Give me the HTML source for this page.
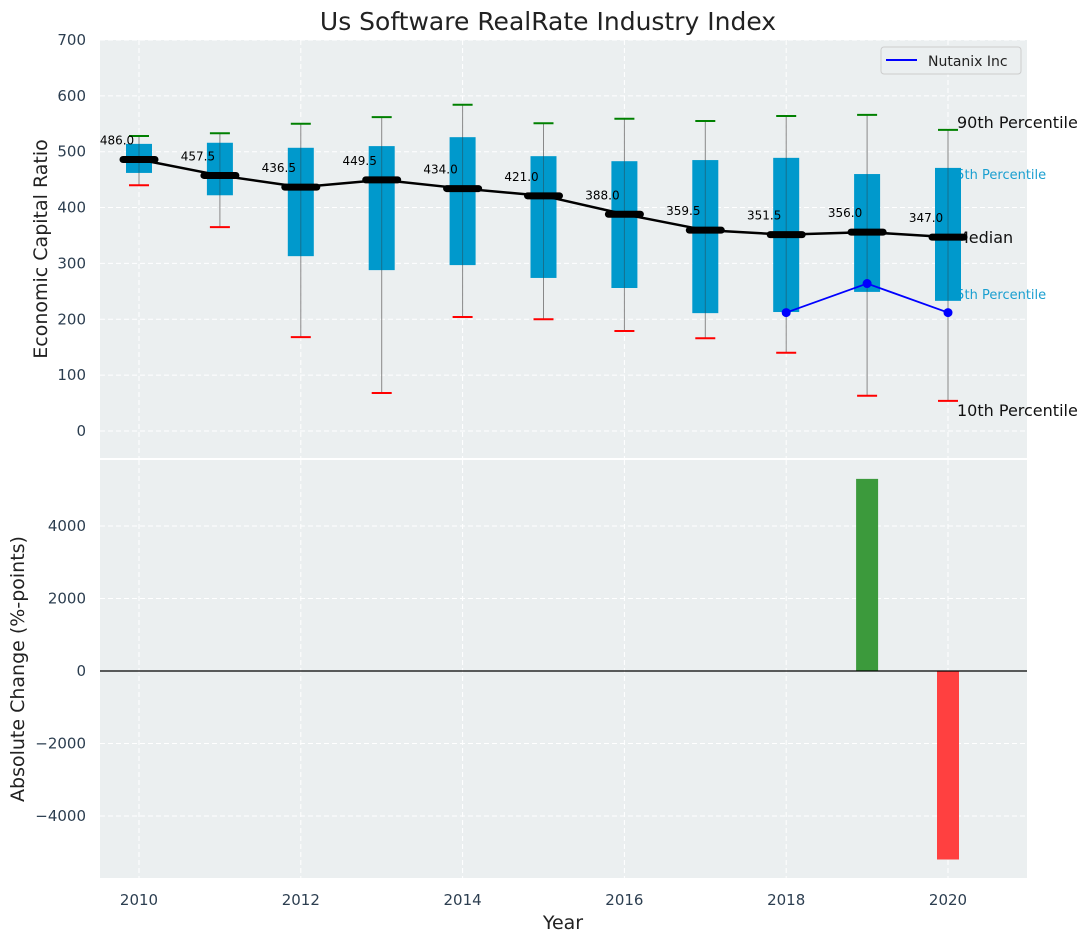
<!DOCTYPE html>
<html><head><meta charset="utf-8"><style>
html,body{margin:0;padding:0;background:#fff;}
svg{display:block;font-family:"DejaVu Sans","Liberation Sans",sans-serif;}
</style></head><body>
<svg id="chart" width="1092" height="942" viewBox="0 0 1092 942" xmlns="http://www.w3.org/2000/svg">
<text x="548" y="30" font-size="25" text-anchor="middle" fill="#222">Us Software RealRate Industry Index</text>
<rect x="100" y="40" width="927" height="418" fill="#ebeff0"/>
<rect x="100" y="460" width="927" height="418" fill="#ebeff0"/>
<g id="grid"></g>
<g id="marks"></g>
<g id="axes"></g>
<text transform="translate(47,249) rotate(-90)" font-size="19" text-anchor="middle" fill="#222">Economic Capital Ratio</text>
<text transform="translate(24,669) rotate(-90)" font-size="19" text-anchor="middle" fill="#222">Absolute Change (%-points)</text>
<text x="563" y="929" font-size="19" text-anchor="middle" fill="#222">Year</text>
<g>
<rect x="881" y="47" width="140" height="27" rx="3" fill="#ebeff0" stroke="#ccc"/>
<line x1="886" y1="60" x2="917" y2="60" stroke="#0000ff" stroke-width="2"/>
<text x="928" y="66" font-size="14" fill="#222">Nutanix Inc</text>
</g>
</svg>
<script>
const years=[2010,2011,2012,2013,2014,2015,2016,2017,2018,2019,2020];
const p90=[528,533,550,562,584,551,559,555,564,566,539];
const p75=[514,516,507,510,526,492,483,485,489,460,471];
const medians=[486.0,457.5,436.5,449.5,434.0,421.0,388.0,359.5,351.5,356.0,347.0];
const p25=[462,422,313,288,297,274,256,211,213,249,233];
const p10=[440,365,168,68,204,200,179,166,140,63,54];
const nutYears=[2018,2019,2020];
const nutValues=[212,264,212];
const changeYears=[2019,2020];
const changeValues=[5300,-5200];
const topTicks=[0,100,200,300,400,500,600,700];
const bottomTicks=[-4000,-2000,0,2000,4000];
const xTicks=[2010,2012,2014,2016,2018,2020];

const NS="http://www.w3.org/2000/svg";
const X=y=>139+(y-2010)*80.9;
const YT=v=>431-v*0.5586;
const YB=v=>671-v*0.03625;
function mk(parent,tag,attrs,text){const e=document.createElementNS(NS,tag);for(const k in attrs)e.setAttribute(k,attrs[k]);if(text!==undefined)e.textContent=text;document.getElementById(parent).appendChild(e);return e;}

topTicks.forEach(t=>{const l=mk('grid','line',{x1:100,x2:1027,y1:YT(t),y2:YT(t),stroke:'#fff','stroke-dasharray':'5,3','stroke-width':1});


const tx=mk('axes','text',{x:86,y:YT(t)+5,'font-size':15,'text-anchor':'end',fill:'#2c3e50'},String(t));

});
bottomTicks.forEach(t=>{const l=mk('grid','line',{x1:100,x2:1027,y1:YB(t),y2:YB(t),stroke:'#fff','stroke-dasharray':'5,3','stroke-width':1});


const tx=mk('axes','text',{x:86,y:YB(t)+5,'font-size':15,'text-anchor':'end',fill:'#2c3e50'},(t<0?'\u2212'+(-t):String(t)));

});
xTicks.forEach(t=>{[[40,458],[460,878]].forEach(r=>{const l=mk('grid','line',{x1:X(t),x2:X(t),y1:r[0],y2:r[1],stroke:'#fff','stroke-dasharray':'5,3','stroke-width':1});

});
const tx=mk('axes','text',{x:X(t),y:905,'font-size':15,'text-anchor':'middle',fill:'#2c3e50'},String(t));

});

[['90th Percentile',957,128,16,'#111'],['75th Percentile',948,179,13,'#1a9fd0'],['Median',955,243,16,'#111'],['25th Percentile',948,299,13,'#1a9fd0'],['10th Percentile',957,416,16,'#111']].forEach(a=>{
const tx=mk('marks','text',{x:a[1],y:a[2],'font-size':a[3],fill:a[4]},a[0]);

});

years.forEach((y,i)=>{const x=X(y);
const w=mk('marks','line',{x1:x,x2:x,y1:YT(p90[i]),y2:YT(p10[i]),stroke:'#888','stroke-width':1});


const b=mk('marks','rect',{x:x-13,y:YT(p75[i]),width:26,height:YT(p25[i])-YT(p75[i]),fill:'#0099cc'});


const w2=mk('marks','line',{x1:x,x2:x,y1:YT(p75[i]),y2:YT(p25[i]),stroke:'#333','stroke-opacity':0.4,'stroke-width':1});


const c1=mk('marks','line',{x1:x-10,x2:x+10,y1:YT(p90[i]),y2:YT(p90[i]),stroke:'green','stroke-width':2});


const c2=mk('marks','line',{x1:x-10,x2:x+10,y1:YT(p10[i]),y2:YT(p10[i]),stroke:'red','stroke-width':2});


});
const mp=mk('marks','polyline',{points:years.map((y,i)=>X(y)+','+YT(medians[i])).join(' '),fill:'none',stroke:'#000','stroke-width':2.5});


years.forEach((y,i)=>{const x=X(y);
const m=mk('marks','line',{x1:x-16,x2:x+16,y1:YT(medians[i]),y2:YT(medians[i]),stroke:'#000','stroke-width':7,'stroke-linecap':'round'});


const t=mk('marks','text',{x:x-22,y:YT(medians[i])-15,'font-size':12,'text-anchor':'middle',fill:'#000'},medians[i].toFixed(1));

});
const np=mk('marks','polyline',{points:nutYears.map((y,i)=>X(y)+','+YT(nutValues[i])).join(' '),fill:'none',stroke:'#0000ff','stroke-width':1.8});


nutYears.forEach((y,i)=>{const c=mk('marks','circle',{cx:X(y),cy:YT(nutValues[i]),r:4.5,fill:'#0000ff'});

});

changeYears.forEach((y,i)=>{const v=changeValues[i];const y0=YB(Math.max(v,0)),y1=YB(Math.min(v,0));
const r=mk('marks','rect',{x:X(y)-11,y:y0,width:22,height:y1-y0,fill:v>=0?'#3c9a3c':'#ff4040'});

});
const z=mk('marks','line',{x1:100,x2:1027,y1:YB(0),y2:YB(0),stroke:'#000','stroke-width':1.2});


</script>
</body></html>
